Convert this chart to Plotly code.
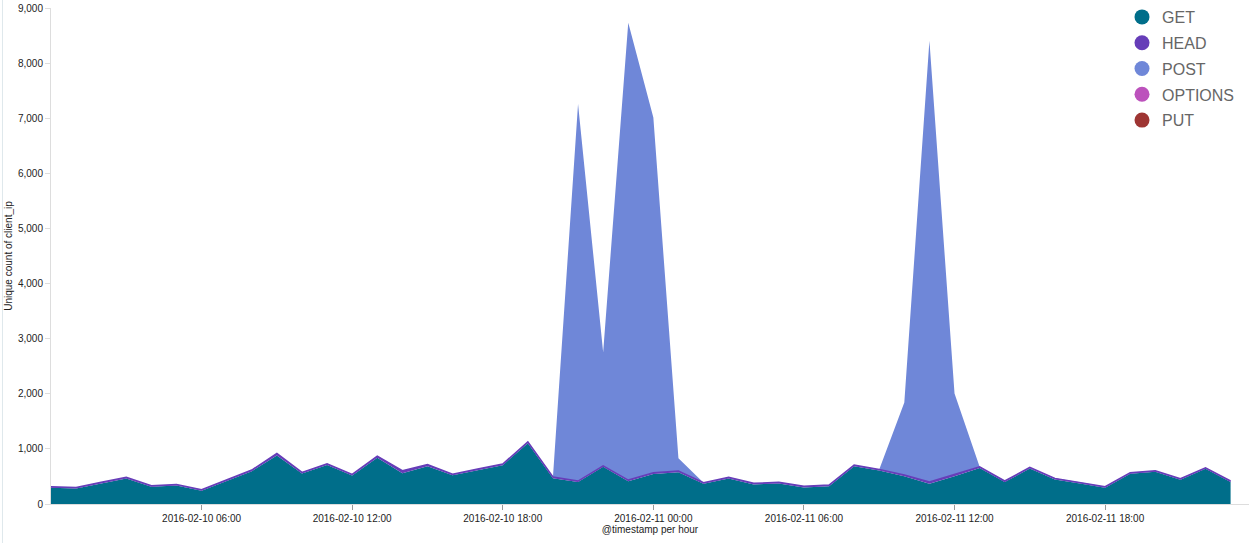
import pandas as pd
import plotly.graph_objects as go

# ---- data (hourly buckets, 2016-02-10 00:00 .. 2016-02-11 23:00) ----
start_time = "2016-02-10 00:00"
n_buckets = 48
timestamps = pd.date_range(start_time, periods=n_buckets, freq="h")

get_vals = [293, 280, 373, 463, 312, 336, 240, 415, 596, 878,
            554, 706, 517, 840, 559, 683, 520, 614, 705, 1104,
            469, 397, 674, 415, 545, 578, 366, 463, 355, 373,
            300, 324, 687, 608, 505, 369, 502, 651, 397, 644,
            445, 373, 294, 548, 584, 439, 638, 397]
head_vals = [20, 20, 20, 20, 20, 20, 20, 20, 20, 40,
             20, 25, 20, 30, 45, 35, 20, 20, 20, 25,
             20, 20, 20, 20, 20, 20, 20, 20, 20, 20,
             20, 20, 20, 20, 20, 30, 35, 25, 20, 20,
             20, 20, 20, 20, 20, 20, 20, 20]
post_vals = [0] * 21 + [6840, 2060, 8297, 6446, 230] + [0] * 8 + [1317, 8007, 1468] + [0] * 11
options_vals = [0] * 48
put_vals = [0] * 48

series_names = ["GET", "HEAD", "POST", "OPTIONS", "PUT"]
series_values = [get_vals, head_vals, post_vals, options_vals, put_vals]
series_colors = ["#006e8a", "#663db8", "#6f87d8", "#bc52bc", "#9e3533"]
line_widths = [0, 1.5, 0, 0, 0]

x_tick_vals = ["2016-02-10 06:00", "2016-02-10 12:00", "2016-02-10 18:00",
               "2016-02-11 00:00", "2016-02-11 06:00", "2016-02-11 12:00",
               "2016-02-11 18:00"]
y_tick_vals = [0, 1000, 2000, 3000, 4000, 5000, 6000, 7000, 8000, 9000]

x_title = "@timestamp per hour"
y_title = "Unique count of client_ip"

fig = go.Figure()

for name, vals, col, lw in zip(series_names, series_values, series_colors, line_widths):
    fig.add_trace(go.Scatter(
        x=timestamps, y=vals, name=name, mode="lines",
        stackgroup="one", line=dict(color=col, width=lw),
        fillcolor=col, showlegend=False, hoverinfo="x+y+name",
    ))

# legend entries with round markers
for name, col in zip(series_names, series_colors):
    fig.add_trace(go.Scatter(
        x=[None], y=[None], name=name, mode="markers",
        marker=dict(color=col, size=15, symbol="circle"),
        showlegend=True, legendgroup=name,
    ))

tick_font = dict(family="Liberation Sans, Arial, sans-serif", size=10, color="#222")

fig.update_layout(
    width=1249, height=543,
    margin=dict(l=51, r=0, t=7, b=39),
    paper_bgcolor="white", plot_bgcolor="white",
    showlegend=True,
    legend=dict(
        x=0.894, y=1.017, xanchor="left", yanchor="top",
        bgcolor="rgba(0,0,0,0)",
        font=dict(family="Liberation Sans, Arial, sans-serif", size=16, color="#666"),
        itemwidth=30, traceorder="grouped", tracegroupgap=2,
    ),
    xaxis=dict(
        range=["2016-02-10 00:00", "2016-02-11 23:44"],
        tickvals=x_tick_vals,
        ticktext=x_tick_vals,
        ticks="outside", ticklen=5, tickcolor="#999", tickwidth=1,
        showgrid=False, zeroline=False,
        showline=True, linecolor="#ddd", linewidth=1,
        tickfont=tick_font,
        title=dict(text=x_title, font=dict(family="Liberation Sans, Arial, sans-serif", size=10, color="#222"), standoff=2),
        automargin=False,
    ),
    yaxis=dict(
        range=[0, 9000],
        tickvals=y_tick_vals,
        tickformat=",",
        ticks="outside", ticklen=5, tickcolor="#ddd", tickwidth=1,
        showgrid=False, zeroline=False,
        showline=True, linecolor="#ddd", linewidth=1,
        tickfont=tick_font,
        title=dict(text=y_title, font=dict(family="Liberation Sans, Arial, sans-serif", size=10, color="#222"), standoff=3),
        automargin=False,
    ),
    hovermode="x",
)

# faint panel border at far left
fig.add_shape(type="line", xref="paper", yref="paper",
              x0=-0.0405, x1=-0.0405, y0=-0.08, y1=1.02,
              line=dict(color="#dfe8ec", width=1))

fig.write_html("out.html", config={"displayModeBar": False},
               post_script="document.body.style.margin='0';document.body.style.overflow='hidden';")
